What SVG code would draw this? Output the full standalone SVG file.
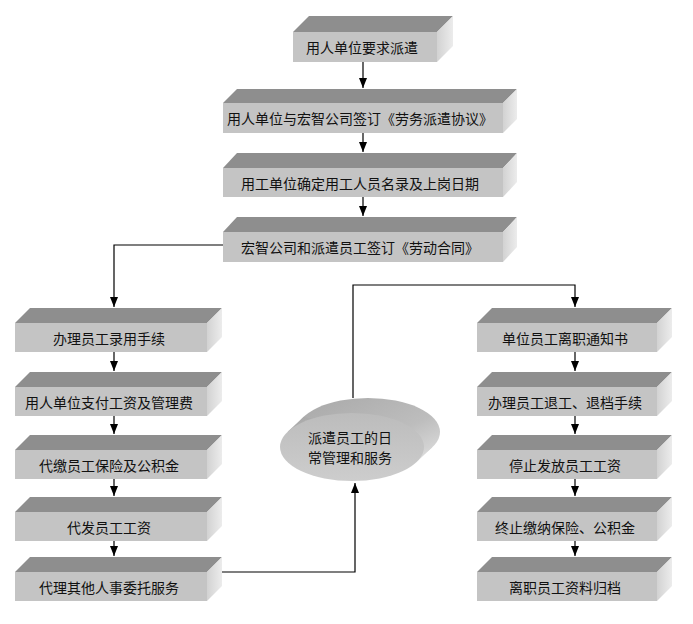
<svg xmlns="http://www.w3.org/2000/svg" width="693" height="624" viewBox="0 0 693 624">
<style>
.front{fill:#c4c4c4;}
.top{fill:#8e8e8e;}
.side{fill:url(#sideg);}
.t{font-family:"Noto Sans CJK SC","Liberation Sans",sans-serif;font-size:14px;fill:#111;text-anchor:middle;dominant-baseline:central;}
.c{fill:none;stroke:#000;stroke-width:1.2;}
</style>
<defs>
<linearGradient id="sideg" x1="0" y1="0" x2="1" y2="0">
<stop offset="0" stop-color="#d2d2d2"/><stop offset="1" stop-color="#ececec"/>
</linearGradient>
<linearGradient id="ellg" x1="0" y1="0" x2="1" y2="1">
<stop offset="0" stop-color="#a8a8a8"/><stop offset="0.6" stop-color="#bdbdbd"/><stop offset="1" stop-color="#e4e4e4"/>
</linearGradient>
<linearGradient id="ellf" x1="0" y1="0" x2="0" y2="1">
<stop offset="0" stop-color="#bcbcbc"/><stop offset="1" stop-color="#cdcdcd"/>
</linearGradient>
<marker id="ah" markerUnits="userSpaceOnUse" markerWidth="10" markerHeight="8" refX="10" refY="4" orient="auto">
<path d="M0,0 L10,4 L0,8 z" fill="#000"/>
</marker>
</defs>
<rect width="693" height="624" fill="#fff"/>

<g id="connectors">
<path class="c" d="M363,62 V88" marker-end="url(#ah)"/>
<path class="c" d="M363,133 V152" marker-end="url(#ah)"/>
<path class="c" d="M363,197 V216" marker-end="url(#ah)"/>
<path class="c" d="M223,245 H114 V307" marker-end="url(#ah)"/>
<path class="c" d="M114,352 V371" marker-end="url(#ah)"/>
<path class="c" d="M114,416 V434" marker-end="url(#ah)"/>
<path class="c" d="M114,479 V496" marker-end="url(#ah)"/>
<path class="c" d="M114,541 V556" marker-end="url(#ah)"/>
<path class="c" d="M222,572 H355 V483" marker-end="url(#ah)"/>
<path class="c" d="M353,398 V285 H575 V307" marker-end="url(#ah)"/>
<path class="c" d="M575,352 V371" marker-end="url(#ah)"/>
<path class="c" d="M575,416 V434" marker-end="url(#ah)"/>
<path class="c" d="M575,479 V496" marker-end="url(#ah)"/>
<path class="c" d="M575,541 V556" marker-end="url(#ah)"/>
</g>

<g id="n1">
<polygon class="top" points="293,32 309,16 453,16 437,32"/>
<polygon class="side" points="437,32 453,16 453,46 437,62"/>
<rect class="front" x="293" y="32" width="144" height="30"/>
<text class="t" x="362" y="47">用人单位要求派遣</text>
</g>
<g id="n2">
<polygon class="top" points="223,103 237,89 517,89 503,103"/>
<polygon class="side" points="503,103 517,89 517,119 503,133"/>
<rect class="front" x="223" y="103" width="280" height="30"/>
<text class="t" x="360" y="118">用人单位与宏智公司签订《劳务派遣协议》</text>
</g>
<g id="n3">
<polygon class="top" points="223,168 237,153 517,153 503,168"/>
<polygon class="side" points="503,168 517,153 517,182 503,197"/>
<rect class="front" x="223" y="168" width="280" height="29"/>
<text class="t" x="360" y="182.5">用工单位确定用工人员名录及上岗日期</text>
</g>
<g id="n4">
<polygon class="top" points="223,232 237,217 517,217 503,232"/>
<polygon class="side" points="503,232 517,217 517,247 503,262"/>
<rect class="front" x="223" y="232" width="280" height="30"/>
<text class="t" x="360" y="247">宏智公司和派遣员工签订《劳动合同》</text>
</g>

<g id="l1">
<polygon class="top" points="15,323 30,308 222,308 207,323"/>
<polygon class="side" points="207,323 222,308 222,337 207,352"/>
<rect class="front" x="15" y="323" width="192" height="29"/>
<text class="t" x="109" y="337.5">办理员工录用手续</text>
</g>
<g id="l2">
<polygon class="top" points="15,387 30,372 222,372 207,387"/>
<polygon class="side" points="207,387 222,372 222,401 207,416"/>
<rect class="front" x="15" y="387" width="192" height="29"/>
<text class="t" x="109" y="401.5">用人单位支付工资及管理费</text>
</g>
<g id="l3">
<polygon class="top" points="15,450 30,435 222,435 207,450"/>
<polygon class="side" points="207,450 222,435 222,464 207,479"/>
<rect class="front" x="15" y="450" width="192" height="29"/>
<text class="t" x="109" y="464.5">代缴员工保险及公积金</text>
</g>
<g id="l4">
<polygon class="top" points="15,512 30,497 222,497 207,512"/>
<polygon class="side" points="207,512 222,497 222,526 207,541"/>
<rect class="front" x="15" y="512" width="192" height="29"/>
<text class="t" x="109" y="526.5">代发员工工资</text>
</g>
<g id="l5">
<polygon class="top" points="15,572 30,557 222,557 207,572"/>
<polygon class="side" points="207,572 222,557 222,586 207,601"/>
<rect class="front" x="15" y="572" width="192" height="29"/>
<text class="t" x="109" y="586.5">代理其他人事委托服务</text>
</g>

<g id="r1">
<polygon class="top" points="477,323 492,308 672,308 657,323"/>
<polygon class="side" points="657,323 672,308 672,337 657,352"/>
<rect class="front" x="477" y="323" width="180" height="29"/>
<text class="t" x="565" y="337.5">单位员工离职通知书</text>
</g>
<g id="r2">
<polygon class="top" points="477,387 492,372 672,372 657,387"/>
<polygon class="side" points="657,387 672,372 672,401 657,416"/>
<rect class="front" x="477" y="387" width="180" height="29"/>
<text class="t" x="565" y="401.5">办理员工退工、退档手续</text>
</g>
<g id="r3">
<polygon class="top" points="477,450 492,435 672,435 657,450"/>
<polygon class="side" points="657,450 672,435 672,464 657,479"/>
<rect class="front" x="477" y="450" width="180" height="29"/>
<text class="t" x="565" y="464.5">停止发放员工工资</text>
</g>
<g id="r4">
<polygon class="top" points="477,512 492,497 672,497 657,512"/>
<polygon class="side" points="657,512 672,497 672,526 657,541"/>
<rect class="front" x="477" y="512" width="180" height="29"/>
<text class="t" x="565" y="526.5">终止缴纳保险、公积金</text>
</g>
<g id="r5">
<polygon class="top" points="477,572 492,557 672,557 657,572"/>
<polygon class="side" points="657,572 672,557 672,586 657,601"/>
<rect class="front" x="477" y="572" width="180" height="29"/>
<text class="t" x="565" y="586.5">离职员工资料归档</text>
</g>

<g id="ellipse">
<ellipse cx="368" cy="432" rx="72" ry="34" fill="url(#ellg)"/>
<polygon points="287.7,431.7 303.7,416.7 432.3,447.3 416.3,462.3" fill="url(#ellg)"/>
<ellipse cx="352" cy="447" rx="72" ry="34" fill="url(#ellf)"/>
<text class="t" x="350" y="437">派遣员工的日</text>
<text class="t" x="350" y="457">常管理和服务</text>
</g>
</svg>
